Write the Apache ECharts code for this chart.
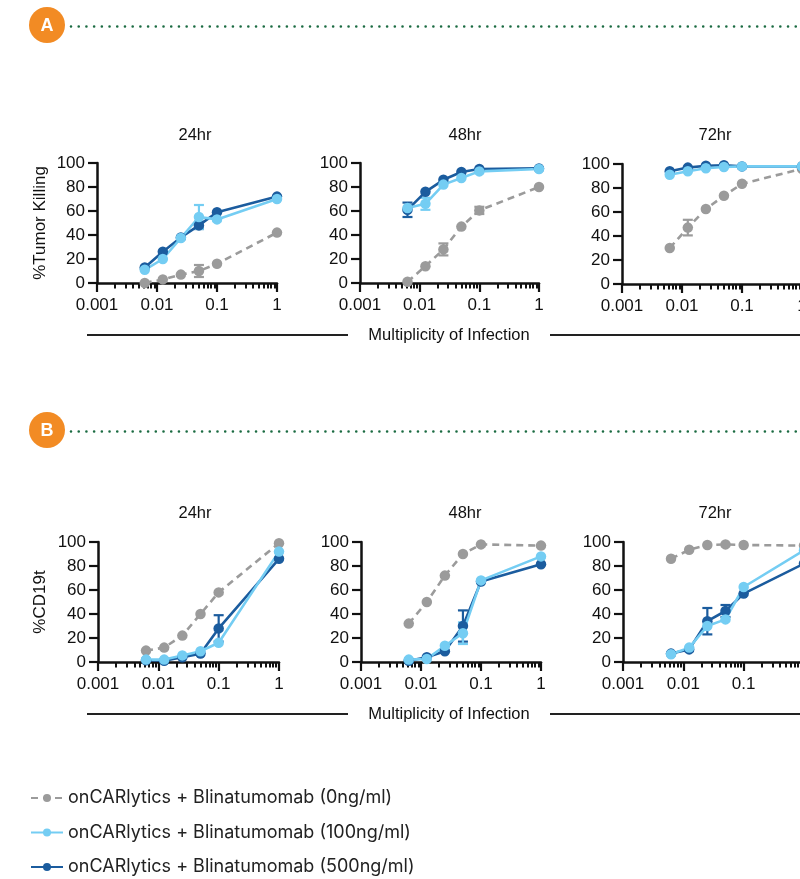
<!DOCTYPE html>
<html><head><meta charset="utf-8">
<script src="https://cdn.jsdelivr.net/npm/echarts@6/dist/echarts.min.js"></script>
<style>html,body{margin:0;padding:0;background:#fff}#c{width:800px;height:879px}</style>
</head><body><div id="c"></div>
<script>
// ---------- DATA ----------
const moi = [0.00625, 0.0125, 0.025, 0.05, 0.1, 1];
const xTickLabels = ['0.001', '0.01', '0.1', '1'];
const timepoints = ['24hr', '48hr', '72hr'];
const seriesNames = [
  'onCARlytics + Blinatumomab (0ng/ml)',
  'onCARlytics + Blinatumomab (100ng/ml)',
  'onCARlytics + Blinatumomab (500ng/ml)'
];
const panelYLabels = ['%Tumor Killing', '%CD19t'];
const xAxisTitle = 'Multiplicity of Infection';
const badgeLetters = ['A', 'B'];

// Panel A : %Tumor Killing
const killing24hr_0   = [0, 3, 7, 10, 16, 42];
const killing24hr_100 = [11, 20, 37.5, 55, 53, 70];
const killing24hr_500 = [13, 26, 38, 48, 59, 72];
const killing48hr_0   = [1, 14, 28, 47, 60.5, 80];
const killing48hr_100 = [62.5, 66, 82, 87.5, 93, 95];
const killing48hr_500 = [61, 76, 86, 92.5, 95, 95.5];
const killing72hr_0   = [30, 47, 62.5, 73.5, 83.5, 96];
const killing72hr_100 = [91, 94, 96.5, 97.5, 98, 98];
const killing72hr_500 = [94, 97, 98.5, 99, 98, 98];
// error (SD) for panel A
const killing24hr_0_sd   = [0, 0, 0, 5, 0, 0];
const killing24hr_100_sd = [0, 0, 0, 10, 0, 0];
const killing24hr_500_sd = [0, 0, 0, 3, 0, 0];
const killing48hr_0_sd   = [0, 0, 5, 0, 3, 0];
const killing48hr_100_sd = [0, 5, 0, 0, 0, 0];
const killing48hr_500_sd = [6, 0, 0, 0, 0, 0];
const killing72hr_0_sd   = [0, 6.5, 0, 0, 0, 0];
const killing72hr_100_sd = [0, 0, 0, 0, 0, 0];
const killing72hr_500_sd = [0, 0, 0, 0, 0, 0];

// Panel B : %CD19t
const cd19t24hr_0   = [9.5, 12, 22, 40, 58, 99];
const cd19t24hr_100 = [2, 2, 5.5, 9, 16, 92];
const cd19t24hr_500 = [1.5, 1, 4, 7, 28, 86];
const cd19t48hr_0   = [32, 50, 72, 90, 98, 97];
const cd19t48hr_100 = [2, 2.5, 13.5, 24, 68, 88];
const cd19t48hr_500 = [1, 4, 9, 30, 67, 81.5];
const cd19t72hr_0   = [86, 93.5, 97.5, 98, 97.5, 97];
const cd19t72hr_100 = [6.5, 12, 30, 35.5, 62.5, 93];
const cd19t72hr_500 = [7, 10.5, 34, 42.5, 57, 82];
// error (SD) for panel B
const cd19t24hr_0_sd   = [0, 0, 0, 0, 0, 0];
const cd19t24hr_100_sd = [0, 0, 0, 0, 0, 0];
const cd19t24hr_500_sd = [0, 0, 0, 0, 11, 0];
const cd19t48hr_0_sd   = [0, 0, 0, 0, 0, 0];
const cd19t48hr_100_sd = [0, 0, 0, 9, 0, 0];
const cd19t48hr_500_sd = [0, 0, 0, 13, 0, 0];
const cd19t72hr_0_sd   = [0, 0, 0, 0, 0, 0];
const cd19t72hr_100_sd = [0, 0, 0, 0, 0, 0];
const cd19t72hr_500_sd = [0, 0, 11, 5, 0, 0];

// minor log tick values (2..9 per decade)
const minorTickValues = [0.002, 0.003, 0.004, 0.005, 0.006, 0.007, 0.008, 0.009,
                         0.02, 0.03, 0.04, 0.05, 0.06, 0.07, 0.08, 0.09,
                         0.2, 0.3, 0.4, 0.5, 0.6, 0.7, 0.8, 0.9];

// ---------- STRUCTURE ----------
const panels = [
  [killing24hr_0, killing24hr_100, killing24hr_500],
  [killing48hr_0, killing48hr_100, killing48hr_500],
  [killing72hr_0, killing72hr_100, killing72hr_500],
  [cd19t24hr_0, cd19t24hr_100, cd19t24hr_500],
  [cd19t48hr_0, cd19t48hr_100, cd19t48hr_500],
  [cd19t72hr_0, cd19t72hr_100, cd19t72hr_500]
];
const panelsSd = [
  [killing24hr_0_sd, killing24hr_100_sd, killing24hr_500_sd],
  [killing48hr_0_sd, killing48hr_100_sd, killing48hr_500_sd],
  [killing72hr_0_sd, killing72hr_100_sd, killing72hr_500_sd],
  [cd19t24hr_0_sd, cd19t24hr_100_sd, cd19t24hr_500_sd],
  [cd19t48hr_0_sd, cd19t48hr_100_sd, cd19t48hr_500_sd],
  [cd19t72hr_0_sd, cd19t72hr_100_sd, cd19t72hr_500_sd]
];

const colors = ['#9b9b9b', '#74cdf3', '#1b5c9e'];
const INK = '#111111';
const TICK_FONT = 'Liberation Sans';

const grids = [
  {left: 97,  top: 163, width: 180, height: 120},
  {left: 360, top: 163, width: 179, height: 120},
  {left: 622, top: 164, width: 180, height: 120},
  {left: 98,  top: 542, width: 181, height: 120},
  {left: 361, top: 542, width: 180, height: 120},
  {left: 623, top: 542, width: 181, height: 120}
];

const xAxes = [], yAxes = [], series = [];
grids.forEach((g, i) => {
  xAxes.push({
    type: 'log', logBase: 10, gridIndex: i, min: 0.001, max: 1, position: 'bottom',
    axisLine: {onZero: false, lineStyle: {color: INK, width: 2.5}},
    axisTick: {show: true, length: 9, lineStyle: {color: INK, width: 2.2}},
    axisLabel: {fontSize: 17, color: INK, fontFamily: TICK_FONT, margin: 14, hideOverlap: false,
      formatter: v => xTickLabels[Math.round(Math.log10(v)) + 3]},
    splitLine: {show: false}
  });
  xAxes.push({
    type: 'log', logBase: 10, gridIndex: i, min: 0.001, max: 1, position: 'bottom',
    axisLine: {show: false},
    axisLabel: {show: false},
    splitLine: {show: false},
    axisTick: {show: true, length: 5.5, customValues: minorTickValues, lineStyle: {color: INK, width: 2}}
  });
  yAxes.push({
    type: 'value', gridIndex: i, min: 0, max: 100, interval: 20,
    axisLine: {show: true, onZero: false, lineStyle: {color: INK, width: 2.5}},
    axisTick: {show: true, length: 9, lineStyle: {color: INK, width: 2.2}},
    axisLabel: {fontSize: 17, color: INK, fontFamily: TICK_FONT, margin: 12},
    splitLine: {show: false}
  });

  // draw order: 0 (gray), 500 (dark), 100 (light)
  [0, 2, 1].forEach(s => {
    const vals = panels[i][s];
    const sd = panelsSd[i][s];
    const errData = [];
    moi.forEach((x, k) => { if (sd[k] > 0) errData.push([x, vals[k] - sd[k], vals[k] + sd[k]]); });
    series.push({
      type: 'custom', xAxisIndex: 2 * i, yAxisIndex: i, z: 2,
      data: errData, silent: true,
      renderItem: (params, api) => {
        const x = api.value(0);
        const p1 = api.coord([x, api.value(2)]);
        const p2 = api.coord([x, api.value(1)]);
        const w = 5;
        const st = {stroke: colors[s], lineWidth: 2.2};
        return {type: 'group', children: [
          {type: 'line', shape: {x1: p1[0], y1: p1[1], x2: p2[0], y2: p2[1]}, style: st},
          {type: 'line', shape: {x1: p1[0] - w, y1: p1[1], x2: p1[0] + w, y2: p1[1]}, style: st},
          {type: 'line', shape: {x1: p2[0] - w, y1: p2[1], x2: p2[0] + w, y2: p2[1]}, style: st}
        ]};
      }
    });
    series.push({
      name: seriesNames[s], type: 'line', xAxisIndex: 2 * i, yAxisIndex: i, z: 3,
      data: moi.map((x, k) => [x, vals[k]]),
      symbol: 'circle', symbolSize: 10.5, showSymbol: true,
      lineStyle: {color: colors[s], width: 2.6, type: s === 0 ? [7, 5] : 'solid'},
      itemStyle: {color: colors[s]},
      emphasis: {disabled: true},
      animation: false
    });
  });
});

// ---------- DECORATION ----------
const graphics = [];
const badgeY = [25, 430];
badgeLetters.forEach((L, j) => {
  graphics.push({type: 'line', shape: {x1: 71, y1: badgeY[j] + 1.5, x2: 802, y2: badgeY[j] + 1.5},
    style: {stroke: '#1b6b42', lineWidth: 2.6, lineDash: [0.01, 7.7], lineCap: 'round'}});
  graphics.push({type: 'circle', shape: {cx: 47, cy: badgeY[j], r: 18}, style: {fill: '#f28b24'}});
  graphics.push({type: 'text', x: 47, y: badgeY[j] + 1,
    style: {text: L, fill: '#ffffff', font: 'bold 18px "Liberation Sans"', align: 'center', verticalAlign: 'middle',
      textAlign: 'center', textVerticalAlign: 'middle'}});
});
const titleX = [195, 465, 715];
const titleY = [135, 513];
const ruleY = [335, 714];
const ylabCY = [223, 602];
[0, 1].forEach(r => {
  timepoints.forEach((t, c) => {
    graphics.push({type: 'text', x: titleX[c], y: titleY[r],
      style: {text: t, fill: INK, font: '16.5px "Liberation Sans"', align: 'center', verticalAlign: 'middle',
        textAlign: 'center', textVerticalAlign: 'middle'}});
  });
  graphics.push({type: 'line', shape: {x1: 87, y1: ruleY[r], x2: 348, y2: ruleY[r]}, style: {stroke: '#222', lineWidth: 2}});
  graphics.push({type: 'line', shape: {x1: 550, y1: ruleY[r], x2: 802, y2: ruleY[r]}, style: {stroke: '#222', lineWidth: 2}});
  graphics.push({type: 'text', x: 449, y: ruleY[r],
    style: {text: xAxisTitle, fill: INK, font: '16.5px "Liberation Sans"', align: 'center', verticalAlign: 'middle',
      textAlign: 'center', textVerticalAlign: 'middle'}});
  graphics.push({type: 'text', x: 40, y: ylabCY[r], rotation: Math.PI / 2,
    style: {text: panelYLabels[r], fill: INK, font: '17px "Liberation Sans"', align: 'center', verticalAlign: 'middle',
      textAlign: 'center', textVerticalAlign: 'middle'}});
});

const chart = echarts.init(document.getElementById('c'), null, {renderer: 'canvas'});
chart.setOption({
  animation: false,
  backgroundColor: '#ffffff',
  grid: grids.map(g => Object.assign({containLabel: false, outerBoundsMode: 'none'}, g)),
  xAxis: xAxes,
  yAxis: yAxes,
  series: series,
  legend: {
    data: seriesNames, orient: 'vertical', left: 30, top: 788, padding: 0,
    itemWidth: 32, itemHeight: 10, itemGap: 14.5, selectedMode: false,
    textStyle: {fontSize: 18, fontFamily: 'Inter', color: '#222', lineHeight: 20}
  },
  graphic: {elements: graphics}
});
</script>
</body></html>
